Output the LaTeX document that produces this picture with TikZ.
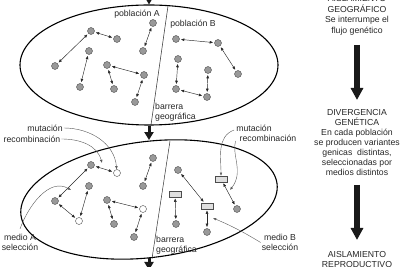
\documentclass[tikz,border=0pt]{standalone}
\usepackage{fontspec}
\setmainfont{Liberation Sans}
\usetikzlibrary{arrows.meta, shapes.geometric, positioning}

\tikzset{
  dot/.style={circle, draw=gray!60!black, fill=gray!80, line width=0.4pt, inner sep=0pt, minimum size=7pt},
  hollow/.style={circle, draw=gray!60!black, fill=white, line width=0.4pt, inner sep=0pt, minimum size=7pt},
  gene/.style={rectangle, draw=gray!60!black, fill=gray!25, line width=0.4pt, inner sep=0pt, minimum width=12pt, minimum height=6pt},
  link/.style={{Latex[length=3.4pt,width=2.9pt]}-{Latex[length=3.4pt,width=2.9pt]}, line width=0.45pt, black!85, shorten <=1.2pt, shorten >=1.2pt},
  note/.style={-{Latex[length=3.2pt,width=2.6pt]}, line width=0.4pt, gray!70!black},
  lab/.style={font=\fontsize{8.7}{10.5}\selectfont, text=black!85, inner sep=0pt},
  pop/.style={ellipse, draw, line width=1.1pt, inner sep=0pt, minimum width=258pt, minimum height=120pt},
  bigarrow/.style={-{Triangle[length=12pt,width=12pt]}, line width=6pt, black!90},
  midarrow/.style={-{Triangle[length=8pt,width=9pt]}, line width=3pt, black!90},
}

\begin{document}
\begin{tikzpicture}[x=1pt,y=1pt]
\useasboundingbox (0,0) rectangle (400,267);
% the two populations
\node[pop] (popU) at (149,202) {};
\node[pop, rotate=7, minimum height=116pt] (popL) at (149,67.5) {};
% geographic barrier
\draw[line width=0.5pt, black!80] (168,261) -- (151,142);
\draw[line width=0.5pt, black!80] (170,126) -- (152,8.5);
\node[lab, align=left, anchor=west] (barU) at (155,154.5) {barrera\\geográfica};
\node[lab, align=left, anchor=west] (barL) at (156,21.5) {barrera\\geográfica};
% flow between the stages
\draw[midarrow] (149,278) -- (popU.north);
\draw[midarrow] (popU.south) -- ++(0,-14.5);
\draw[midarrow] (149,9) -- ++(0,-12);

% upper stage, population A
\node[lab] (labA) at (137,253) {población A};
\node[dot] (a1) at (91,236) {};
\node[dot] (a2) at (117,228) {};
\node[dot] (a3) at (55,201) {};
\node[dot] (a4) at (89,216) {};
\node[dot] (a5) at (80,180) {};
\node[dot] (a6) at (107,202) {};
\node[dot] (a7) at (144,192) {};
\node[dot] (a8) at (114,178) {};
\node[dot] (a9) at (135,165) {};
\node[dot] (a10) at (153,244) {};
\node[dot] (a11) at (143,216) {};
\draw[link] (a1) -- (a2);
\draw[link] (a1) -- (a3);
\draw[link] (a4) -- (a5);
\draw[link] (a6) -- (a7);
\draw[link] (a6) -- (a8);
\draw[link] (a7) -- (a9);
\draw[link] (a10) -- (a11);
% upper stage, population B
\node[lab] (labB) at (193,243) {población B};
\node[dot] (b1) at (176,228) {};
\node[dot] (b2) at (218,224) {};
\node[dot] (b3) at (238,193) {};
\node[dot] (b4) at (178,208) {};
\node[dot] (b5) at (176,178) {};
\node[dot] (b6) at (208,197) {};
\node[dot] (b7) at (207,170) {};
\draw[link] (b1) -- (b2);
\draw[link] (b2) -- (b3);
\draw[link] (b4) -- (b5);
\draw[link] (b5) -- (b7);
\draw[link] (b6) -- (b7);

% lower stage, population A
\node[dot] (c1) at (91,102) {};
\node[hollow] (c2) at (117,94) {};
\node[dot] (c3) at (55,66) {};
\node[dot] (c4) at (89,81) {};
\node[hollow] (c5) at (79,46) {};
\node[dot] (c6) at (107,67) {};
\node[hollow] (c7) at (143,58) {};
\node[dot] (c8) at (114,43) {};
\node[dot] (c9) at (134,30) {};
\node[dot] (c10) at (153,109) {};
\node[dot] (c11) at (143,81) {};
\draw[link] (c1) -- (c2);
\draw[link] (c1) -- (c3);
\draw[link] (c3) -- (c5);
\draw[link] (c4) -- (c5);
\draw[link] (c6) -- (c7);
\draw[link] (c6) -- (c8);
\draw[link] (c7) -- (c9);
\draw[link] (c10) -- (c11);
% lower stage, population B
\node[dot] (d1) at (178,97) {};
\node[gene] (d2) at (221,88) {};
\node[gene] (d3) at (175,73) {};
\node[gene] (d4) at (207,61) {};
\node[dot] (d5) at (237,58) {};
\node[dot] (d6) at (176,43) {};
\node[dot] (d7) at (207,35) {};
\draw[link] (d1) -- (d4);
\draw[link] (d2) -- (d5);
\draw[link] (d3) -- (d6);
\draw[link] (d4) -- (d7);

% annotations
\node[lab] (mutA) at (45,139) {mutación};
\node[lab] (recA) at (32,128) {recombinación};
\node[lab, align=center] (selA) at (20,24.5) {medio A\\selección};
\node[lab] (mutB) at (254,139) {mutación};
\node[lab] (recB) at (268,129) {recombinación};
\node[lab, align=center] (selB) at (280,24.5) {medio B\\selección};
\coordinate (tRecA) at (102,104);
\coordinate (tSelA) at (71,77);
\coordinate (tRecB) at (230,77);
\coordinate (tSelB) at (213,49);
\draw[note] ([xshift=1pt]mutA.east) to[out=0, in=95] (c2);
\draw[note] ([xshift=1pt]recA.east) to[out=0, in=105] (tRecA);
\draw[note] ([yshift=5pt]selA.north) to[out=70, in=150] (tSelA);
\draw[note] ([xshift=-2pt,yshift=-2pt]mutB.west) to[out=200, in=90] (d2);
\draw[note] ([xshift=-4pt,yshift=-3pt]recB.west) .. controls +(-4,-14) and +(14,18) .. (tRecB);
\draw[note] ([xshift=-1pt]selB.west) to[bend right=4] (tSelB);

% stages on the right
\node[lab, align=center] (geo) at (357,251.5) {AISLAMIENTO\\GEOGRÁFICO\\Se interrumpe el\\flujo genético};
\node[lab, align=center, font=\fontsize{8.7}{10}\selectfont] (div) at (357,124) {DIVERGENCIA\\GENÉTICA\\En cada población\\se producen variantes\\genicas~ distintas,\\seleccionadas por\\medios distintos};
\node[lab, align=center, font=\fontsize{8.7}{10}\selectfont] (rep) at (357,7) {AISLAMIENTO\\REPRODUCTIVO};
\draw[bigarrow] (357,222) -- (357,167);
\draw[bigarrow] (357,82) -- (357,27);
\end{tikzpicture}
\end{document}
